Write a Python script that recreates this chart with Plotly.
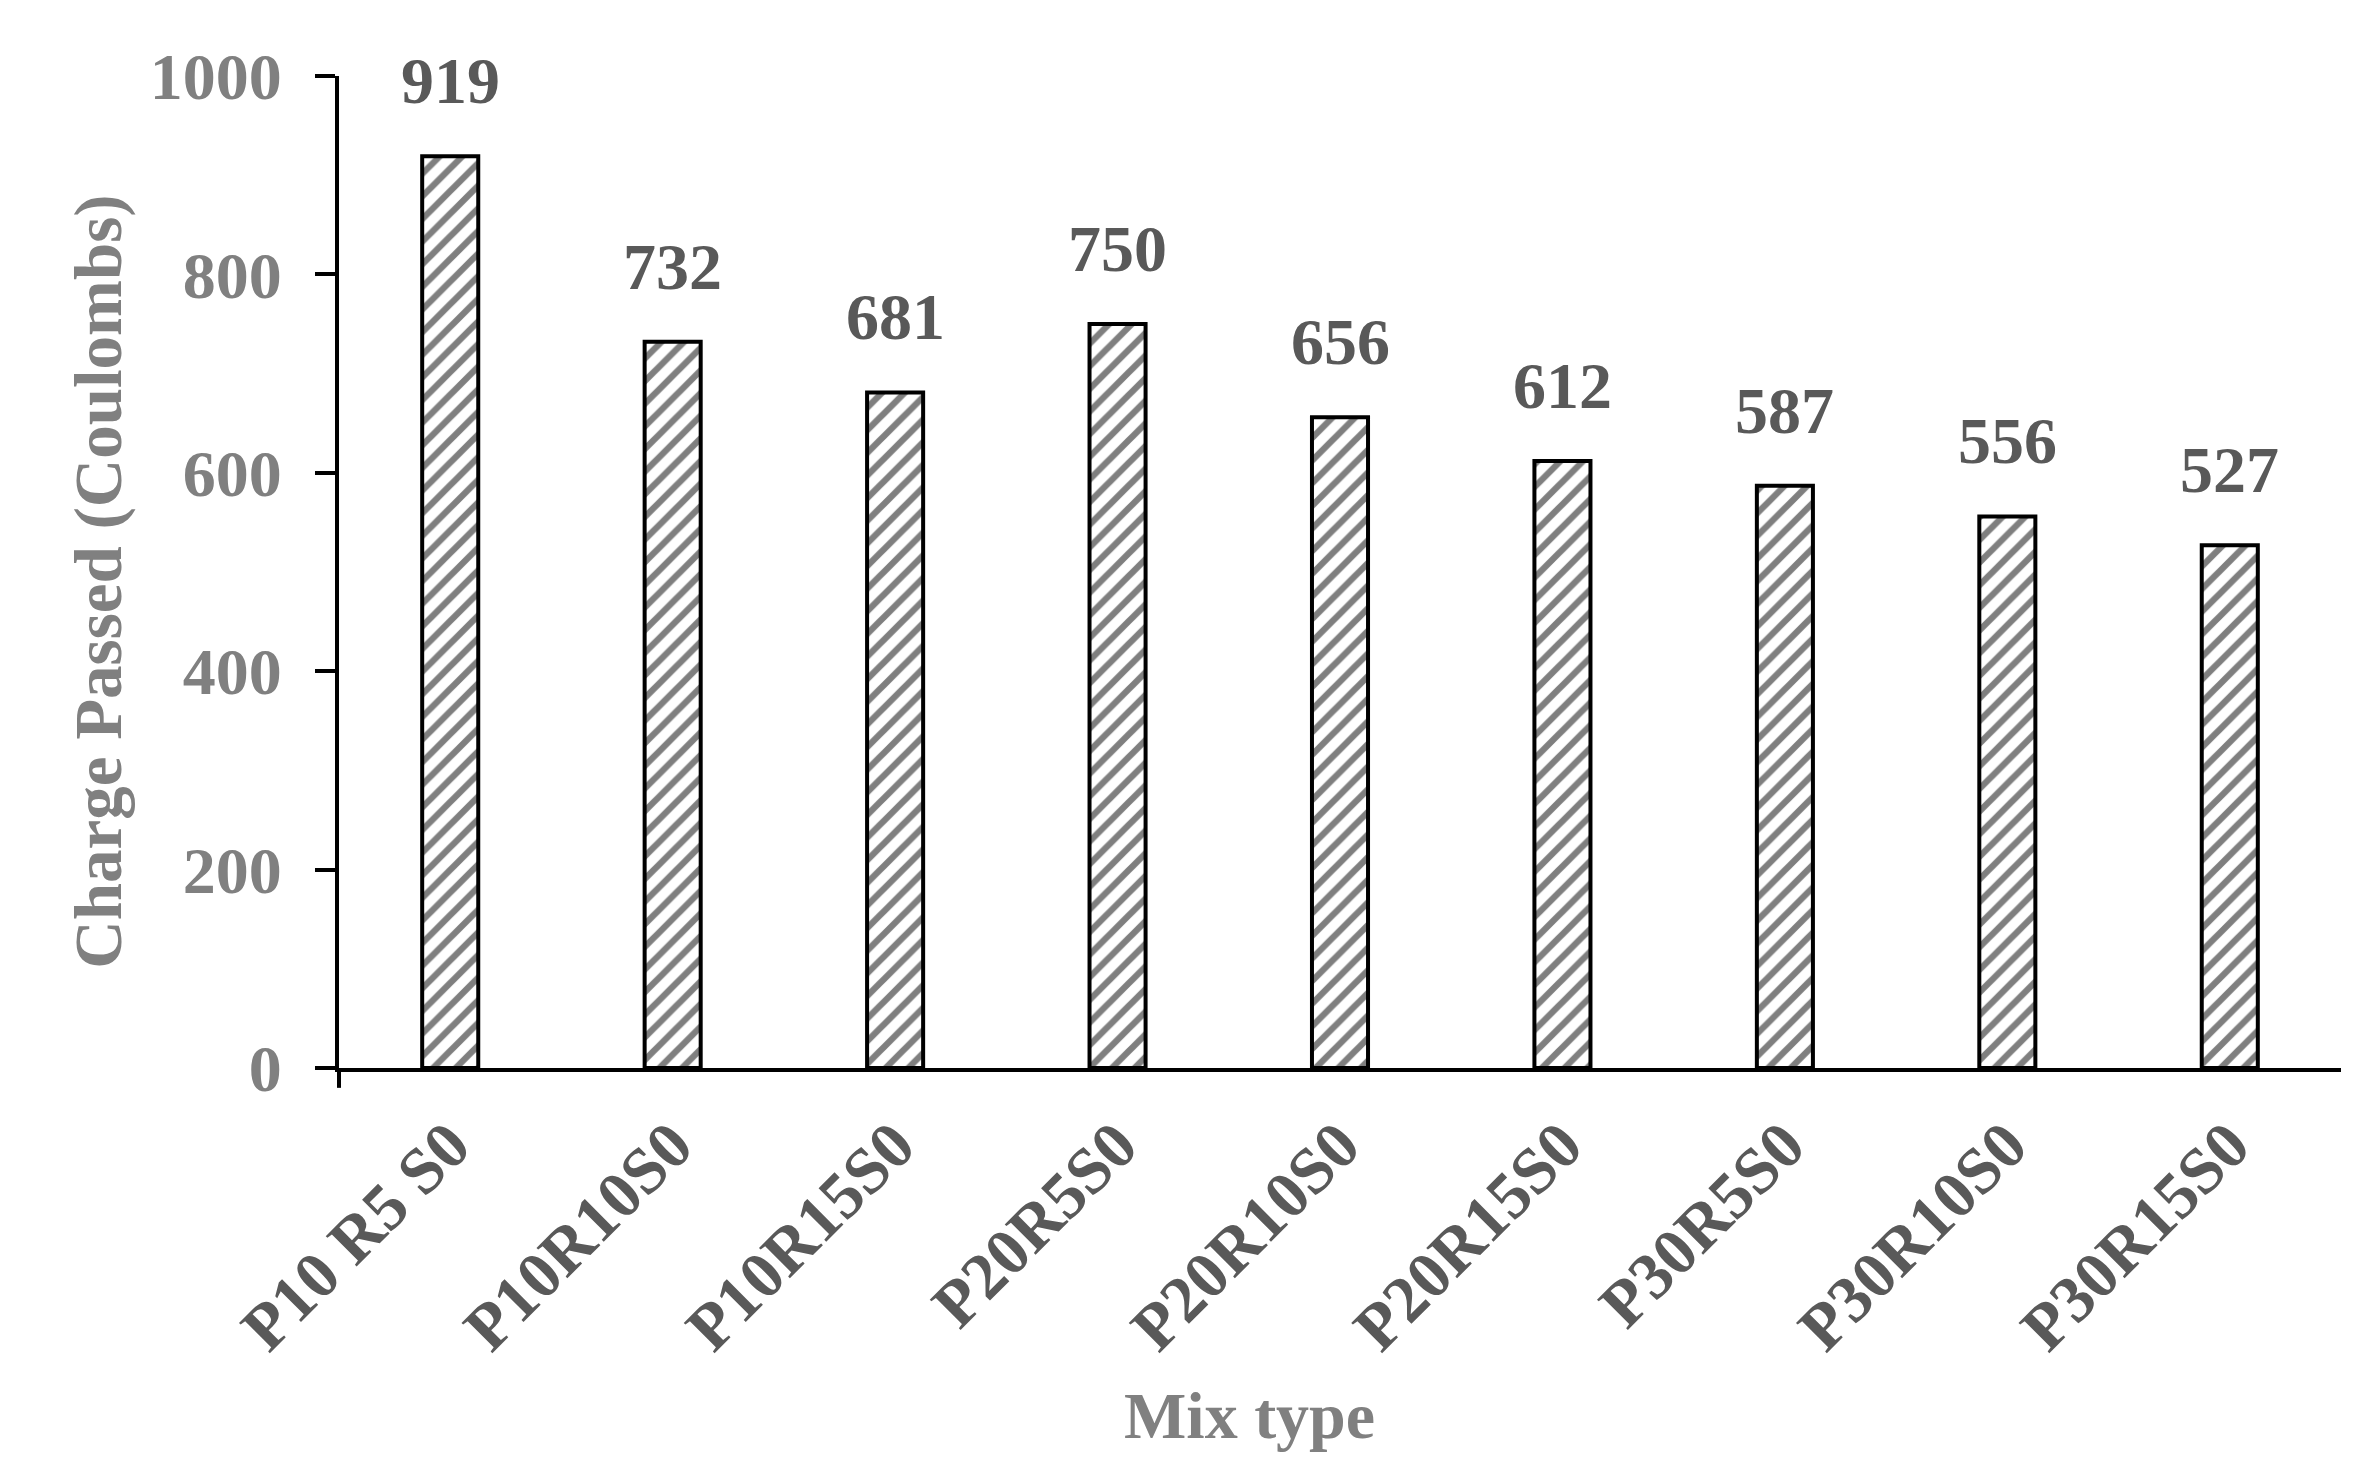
import plotly.graph_objects as go

mix_types = ['P10 R5 S0', 'P10R10S0', 'P10R15S0', 'P20R5S0', 'P20R10S0',
             'P20R15S0', 'P30R5S0', 'P30R10S0', 'P30R15S0']
charge_passed = [919, 732, 681, 750, 656, 612, 587, 556, 527]
y_ticks = [0, 200, 400, 600, 800, 1000]

FONT = 'Liberation Serif'
LIGHT_GREY = '#808080'
DARK_GREY = '#595959'

fig = go.Figure()

fig.add_trace(go.Bar(
    x=mix_types,
    y=charge_passed,
    marker=dict(
        color='white',
        line=dict(color='black', width=4),
        pattern=dict(shape='/', fgcolor='black', bgcolor='white', size=16, solidity=0.4)
    ),
    showlegend=False
))

# value labels above bars
for m, v in zip(mix_types, charge_passed):
    fig.add_annotation(
        x=m, y=v, text=f'<b>{v}</b>', showarrow=False,
        yanchor='bottom', yshift=37,
        font=dict(family=FONT, size=66, color=DARK_GREY)
    )

# axis titles
fig.add_annotation(
    xref='paper', yref='paper', x=0.455, y=-0.35, text='<b>Mix type</b>',
    showarrow=False, xanchor='center', yanchor='middle',
    font=dict(family=FONT, size=66, color=LIGHT_GREY)
)
fig.add_annotation(
    xref='paper', yref='paper', x=-0.12, y=0.49, text='<b>Charge Passed (Coulombs)</b>',
    showarrow=False, textangle=-90, xanchor='center', yanchor='middle',
    font=dict(family=FONT, size=67, color=LIGHT_GREY)
)

# small tick below the axis corner
fig.add_shape(type='line', xref='paper', yref='paper', x0=0, x1=0, y0=0, y1=-0.02,
              line=dict(color='black', width=4))

fig.update_layout(
    width=2355,
    height=1457,
    plot_bgcolor='white',
    paper_bgcolor='white',
    bargap=0.748,
    margin=dict(l=331, r=22, t=68, b=397),
    font=dict(family=FONT),
    xaxis=dict(
        showline=True, linecolor='black', linewidth=4,
        showgrid=False, ticks='', tickangle=-45,
        tickfont=dict(family=FONT, size=66, color=DARK_GREY, weight='bold'),
        ticklabelstandoff=8
    ),
    yaxis=dict(
        range=[0, 1000], tickvals=y_ticks,
        showline=True, linecolor='black', linewidth=4,
        showgrid=False, zeroline=False,
        ticks='outside', ticklen=20, tickwidth=4, tickcolor='black',
        tickfont=dict(family=FONT, size=66, color=LIGHT_GREY, weight='bold'),
        ticklabelstandoff=20
    )
)

fig.write_html('out.html')
